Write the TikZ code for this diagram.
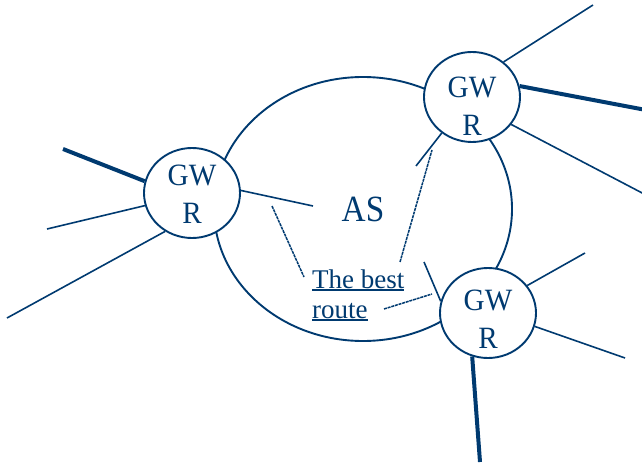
\documentclass[tikz,border=0pt]{standalone}
\usepackage{fontspec}
\setmainfont{Liberation Serif}
\newfontfamily\gwfont[FakeStretch=0.94]{Liberation Serif}
\newfontfamily\asfont[FakeStretch=0.9]{Liberation Serif}
\usetikzlibrary{shapes.geometric}
\definecolor{netblue}{HTML}{003A70}
\newcommand{\ulx}[1]{\setbox0\hbox{#1}\rlap{\rule[-3pt]{\wd0}{1.6pt}}\box0}
\begin{document}
\begin{tikzpicture}[x=1pt,y=-1pt,
  thinline/.style={draw=netblue, line width=1.6pt},
  thickline/.style={draw=netblue, line width=4pt},
  routeline/.style={draw=netblue, line width=1.5pt, dash pattern=on 3pt off 0.8pt},
  aslabel/.style={ellipse, draw=netblue, line width=1.9pt, minimum width=298pt, minimum height=264pt, inner sep=0pt, text=netblue, font=\asfont\fontsize{37}{40}\selectfont},
  gwr/.style={ellipse, draw=netblue, line width=1.9pt, fill=white, minimum width=96pt, minimum height=90pt, inner sep=0pt},
  gwtext/.style={text=netblue, anchor=base, inner sep=0pt, font=\gwfont\fontsize{31}{38}\selectfont}]
\useasboundingbox (0,0) rectangle (642,465);
\node[aslabel] (as) at (363,209) {AS};
% routers
\node[gwr] (g1) at (192,193) {};
\node[gwr] (g2) at (472,97) {};
\node[gwr] (g3) at (488,313) {};
\node[gwtext] (g1t) at (192,223) {\begin{tabular}[b]{@{}c@{}}GW\\R\end{tabular}};
\node[gwtext] (g2t) at (472,136) {\begin{tabular}[b]{@{}c@{}}GW\\R\end{tabular}};
\node[gwtext] (g3t) at (488,348) {\begin{tabular}[b]{@{}c@{}}GW\\R\end{tabular}};
% free ends
\coordinate (l1) at (63,149);
\coordinate (l2) at (47,229);
\coordinate (l3) at (7,318);
\coordinate (l4) at (313,206);
\coordinate (t1) at (593,5);
\coordinate (t2) at (646,110);
\coordinate (t3) at (646,195);
\coordinate (t4) at (416,166);
\coordinate (b1) at (585,253);
\coordinate (b2) at (625,358);
\coordinate (b3) at (480,462);
\coordinate (b4) at (424,262);
\coordinate (d1a) at (272,206);
\coordinate (d1b) at (304,277);
\coordinate (d2a) at (400,262);
\coordinate (d2b) at (432,150);
\coordinate (d3a) at (384,309);
\coordinate (d3b) at (432,294);
% spokes
\draw[thickline] (l1) -- (g1.166.8);
\draw[thinline] (l2) -- (g1.195.5);
\draw[thinline] (l3) -- (g1.235.6);
\draw[thinline] (g1.3.6) -- (l4);
\draw[thinline] (g2.48.5) -- (t1);
\draw[thickline] (g2.13.4) -- (t2);
\draw[thinline] (g2.-35.9) -- (t3);
\draw[thinline] (t4) -- (g2.230.8);
\draw[thinline] (g3.35) -- (b1);
\draw[thinline] (g3.-16) -- (b2);
\draw[thickline] (g3.250) -- (b3);
\draw[thinline] (b4) -- (g3.166.8);
% route label
\node[anchor=base west, text=netblue, inner sep=0pt, font=\fontsize{27}{30}\selectfont] (best) at (312,318)
  {\begin{tabular}[b]{@{}l@{}}\ulx{The best}\\\ulx{route}\end{tabular}};
\draw[routeline] (d1a) -- (d1b);
\draw[routeline] (d2a) -- (d2b);
\draw[routeline] (d3a) -- (d3b);
\end{tikzpicture}
\end{document}
